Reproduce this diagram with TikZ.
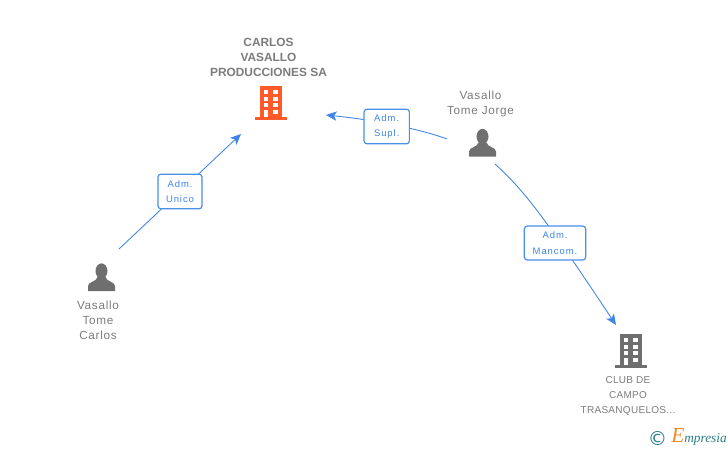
\documentclass[tikz,border=0pt]{standalone}
\usepackage{fontspec}
\setmainfont{Liberation Sans}
\usetikzlibrary{arrows.meta,backgrounds}
\definecolor{linkblue}{HTML}{3F86E8}
\definecolor{boxblue}{HTML}{4A8FE8}
\definecolor{labelgray}{HTML}{7C7C7C}
\definecolor{icongray}{HTML}{6F6F6F}
\definecolor{orangeb}{HTML}{FF5A2C}
\definecolor{teal1}{HTML}{2A7F8E}
\definecolor{orangee}{HTML}{F08A24}
\newcommand{\spaced}[1]{\addfontfeatures{LetterSpace=#1}}
\tikzset{
  x=0.75pt,y=-0.75pt,
  boxlabel/.style={draw=boxblue,line width=0.9pt,rounded corners=2.2pt,fill=white,text=linkblue,
    align=center,inner sep=0pt,font=\fontsize{7.1pt}{11.6pt}\selectfont\spaced{10}},
  toplabel/.style={text=labelgray,align=center,inner sep=0pt,font=\fontsize{8.8pt}{11.2pt}\selectfont\spaced{6}},
  boldlabel/.style={text=labelgray,align=center,inner sep=0pt,font=\fontsize{8.9pt}{11.2pt}\selectfont\bfseries},
  smalllabel/.style={text=labelgray,align=center,inner sep=0pt,font=\fontsize{7.5pt}{11.2pt}\selectfont\spaced{3}},
  link/.style={draw=linkblue,line width=0.65pt},
  arrowlink/.style={link,-{Stealth[length=8pt,width=7pt,inset=2pt]}},
  pics/building/.style={code={
    \fill[#1] (-11,-34) rectangle (11,-3);
    \fill[#1] (-16,-3) rectangle (16,0);
    \foreach \yy in {-30,-23,-17}{
      \fill[white] (-7.3,\yy) rectangle (-2.7,\yy+4.2);
      \fill[white] (2.2,\yy) rectangle (6.8,\yy+4.2);
    }
    \fill[white] (-7.3,-10) rectangle (-2.7,-3);
    \fill[white] (2.2,-10) rectangle (6.8,-5.8);
  }},
  pics/person/.style={code={
    \fill[icongray] (0,-20) ellipse (6 and 7.6);
    \fill[icongray] (-13.5,0) -- (-13.5,-5) .. controls (-13.5,-9.5) and (-5,-9) .. (-4,-14)
       -- (4,-14) .. controls (5,-9) and (13.5,-9.5) .. (13.5,-5) -- (13.5,0) -- cycle;
  }}
}
\begin{document}
\begin{tikzpicture}
\useasboundingbox (0,0) rectangle (728,450);
\begin{scope}[on background layer]
\fill[white] (0,0) rectangle (728,450);
\end{scope}

% labels
\node[boldlabel] (main) at (268.5,57) {CARLOS\\VASALLO\\PRODUCCIONES SA};
\node[toplabel] (jorge) at (480.5,103.5) {Vasallo\\Tome Jorge};
\node[toplabel] (carlos) at (98,320) {Vasallo\\Tome\\Carlos};
\node[smalllabel] (club) at (628,396) {CLUB DE\\CAMPO\\TRASANQUELOS...};

% icons
\pic at (271,120) {building=orangeb};
\pic at (631,368) {building=icongray};
\pic at (482.5,156.5) {person};
\pic at (101.5,291) {person};

% relation boxes
\node[boxlabel,minimum width=33pt,minimum height=26pt] (unico) at (180,191.5) {Adm.\\Unico};
\node[boxlabel,minimum width=34pt,minimum height=26pt] (supl) at (386.7,126.5) {Adm.\\Supl.};
\node[boxlabel,minimum width=46pt,minimum height=25.5pt] (mancom) at (555,243) {Adm.\\Mancom.};

% free ends
\coordinate (c1) at (119,249);
\coordinate (c2) at (241,134);
\coordinate (j1) at (447,139);
\coordinate (m1) at (326,115);
\coordinate (j2) at (495,164);
\coordinate (k2) at (616,325);

% connectors
\begin{scope}[on background layer]
\draw[arrowlink] (c1) -- (c2);
\draw[arrowlink] (j1) .. controls (420,129) and (375,120) .. (m1);
\draw[arrowlink] (j2) .. controls (527,193) and (548,223) .. (k2);
\end{scope}

% logo
\node[inner sep=0pt,text=teal1] (copy) at (657.5,438) {\fontspec{DejaVu Sans}[Scale=1.45]©};
\node[inner sep=0pt,anchor=base west,text=teal1] (brand) at (671,442)
  {{\fontspec{Liberation Serif}[Scale=1.6]\itshape\textcolor{orangee}{E}}{\fontspec{Liberation Serif}[Scale=1.0]\itshape mpresia}};
\end{tikzpicture}
\end{document}
